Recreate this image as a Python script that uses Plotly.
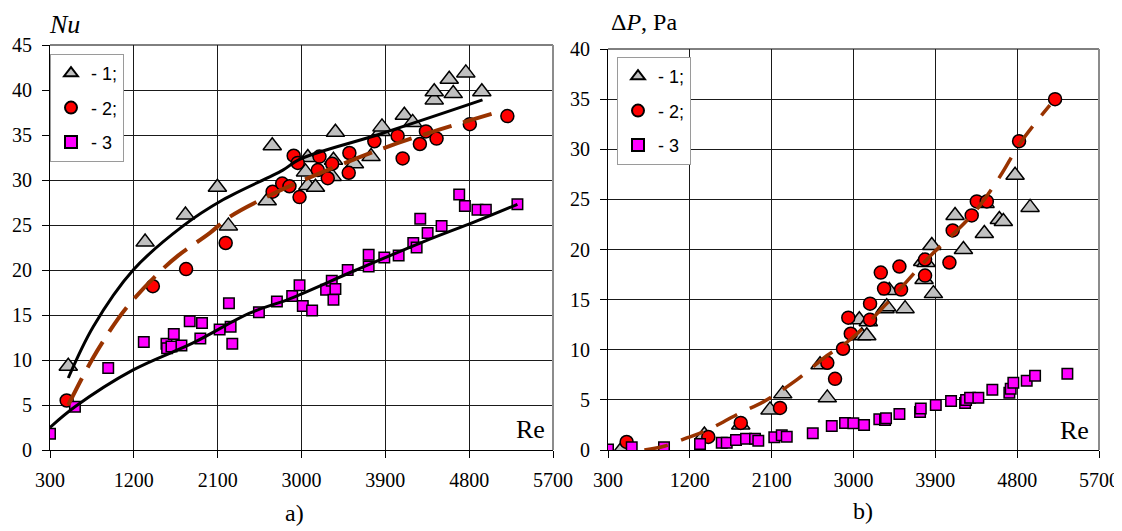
import plotly.graph_objects as go

# ---------------- data: panel a) Nu vs Re ----------------
re_a1 = [496, 1321, 1754, 2097, 2215, 2632, 2686, 3043, 3068, 3068, 3150, 3329, 3343, 3364,
         3568, 3747, 3853, 3864, 4104, 4193, 4425, 4425, 4586, 4629, 4764, 4936]
nu_a1 = [9.3, 23.1, 26.1, 29.2, 24.9, 27.7, 33.8, 30.9, 32.5, 29.4, 29.2, 30.4, 32.2, 35.3,
         31.8, 32.6, 35.4, 35.9, 37.2, 36.4, 38.9, 39.8, 41.2, 39.6, 41.9, 39.8]

re_a2 = [479, 1404, 1761, 2186, 2690, 2793, 2871, 2916, 2960, 2979, 3175, 3193, 3282, 3329,
         3507, 3514, 3782, 4032, 4086, 4271, 4336, 4450, 4807, 5210]
nu_a2 = [5.5, 18.2, 20.1, 23.0, 28.7, 29.6, 29.3, 32.7, 31.9, 28.1, 31.1, 32.6, 30.2, 31.8,
         30.8, 33.0, 34.3, 34.9, 32.4, 34.0, 35.4, 34.6, 36.2, 37.1]

re_a3 = [300, 568, 925, 1307, 1550, 1557, 1604, 1629, 1711, 1800, 1914, 1932, 2121, 2221,
         2239, 2257, 2543, 2736, 2900, 2979, 3014, 3114, 3264, 3325, 3343, 3364, 3496, 3721,
         3721, 3889, 4043, 4200, 4236, 4275, 4354, 4504, 4693, 4754, 4889, 4979, 5318]
nu_a3 = [1.8, 4.8, 9.1, 12.0, 11.8, 11.3, 11.5, 12.9, 11.6, 14.3, 12.4, 14.1, 13.4, 16.3,
         13.7, 11.8, 15.3, 16.5, 17.1, 18.3, 16.0, 15.5, 17.8, 18.8, 16.7, 17.9, 20.0, 21.7,
         20.4, 21.4, 21.6, 23.0, 22.5, 25.7, 24.1, 24.9, 28.4, 27.1, 26.7, 26.7, 27.3]

# fitted curves
fit_a1_re = [496, 764, 1193, 1729, 2157, 2800, 2979, 3871, 4943]
fit_a1_nu = [8.0, 13.7, 20.0, 24.9, 27.8, 31.1, 32.3, 35.2, 38.9]
fit_a2_re = [496, 675, 800, 1032, 1193, 1479, 1675, 2014, 2229, 2622, 2979, 3871, 4479, 5121]
fit_a2_nu = [5.0, 8.6, 10.9, 14.6, 16.7, 19.8, 21.6, 24.1, 25.9, 28.1, 29.8, 33.5, 35.6, 37.6]
fit_a3_re = [300, 568, 1193, 1836, 2443, 2872, 3586, 4300, 4871, 5318]
fit_a3_nu = [2.5, 4.8, 8.9, 11.9, 15.2, 16.8, 20.0, 23.1, 25.4, 27.3]

# ---------------- data: panel b) dP vs Re ----------------
re_b1 = [470, 1360, 1760, 2082, 2222, 2632, 2712, 3064, 3091, 3146, 3163, 3347, 3365, 3394,
         3567, 3761, 3776, 3798, 3861, 3879, 4117, 4209, 4439, 4447, 4604, 4648, 4777, 4942]
dp_b1 = [0.3, 1.5, 2.5, 4.0, 5.6, 8.5, 5.2, 13.0, 11.4, 11.4, 12.8, 14.1, 14.3, 15.9,
         14.1, 18.8, 17.0, 18.7, 20.4, 15.6, 23.4, 20.0, 21.6, 24.6, 23.0, 22.8, 27.4, 24.2]

re_b2 = [505, 1403, 1760, 2192, 2712, 2797, 2885, 2943, 2970, 3182, 3182, 3300, 3336, 3505,
         3523, 3787, 3787, 4055, 4091, 4300, 4356, 4466, 4821, 5217]
dp_b2 = [0.8, 1.3, 2.7, 4.2, 8.7, 7.1, 10.1, 13.2, 11.6, 14.6, 13.0, 17.7, 16.1, 18.3,
         16.0, 19.0, 17.4, 18.7, 21.9, 23.4, 24.8, 24.8, 30.8, 35.0]

re_b3 = [300, 561, 916, 1312, 1551, 1606, 1708, 1818, 1917, 1953, 2129, 2211, 2266, 2552,
         2761, 2907, 2998, 3116, 3284, 3347, 3358, 3505, 3732, 3740, 3905, 4073, 4227, 4238,
         4282, 4373, 4527, 4714, 4729, 4758, 4905, 4997, 5352]
dp_b3 = [0.05, 0.27, 0.27, 0.6, 0.73, 0.73, 1.0, 1.13, 1.13, 0.93, 1.27, 1.47, 1.33, 1.67,
         2.4, 2.7, 2.67, 2.5, 3.06, 3.0, 3.16, 3.6, 3.8, 4.15, 4.5, 4.9, 4.7, 5.0,
         5.2, 5.2, 6.0, 5.7, 6.1, 6.7, 6.9, 7.4, 7.6]

fit_b2_re = [700, 927, 1166, 1348, 1568, 1752, 2008, 2375, 2706, 2962, 3365, 3806, 4319, 4612, 4832, 5160]
fit_b2_dp = [0.0, 0.4, 1.2, 1.8, 2.8, 3.7, 4.8, 7.0, 9.4, 11.0, 14.6, 19.0, 23.6, 27.3, 30.6, 34.4]

re_ticks = [300, 1200, 2100, 3000, 3900, 4800, 5700]
legend_names = ["- 1;", "- 2;", "- 3"]

# ---------------- geometry (page pixels; the page body has an 8px margin) ----------------
OFF = 8
W, H = 1122 - OFF, 531 - OFF
ML, MT = 50 - OFF, 45 - OFF
PLOT_BOTTOM, PLOT_RIGHT = 450 - OFF, 1099 - OFF
MB, MR = H - PLOT_BOTTOM, W - PLOT_RIGHT
PW, PH = W - ML - MR, H - MT - MB

def px(x):
    return (x - OFF - ML) / PW

def py(y):
    return (PLOT_BOTTOM - (y - OFF)) / PH

SERIF = "Liberation Serif, Times New Roman, Times, serif"
SANS = "Liberation Sans, Arial, sans-serif"
BROWN = "#993300"

tri = dict(symbol="triangle-up", size=16, color="#c0c0c0", line=dict(color="black", width=1.5))
cir = dict(symbol="circle", size=13, color="#ff0000", line=dict(color="black", width=1.5))
sqr = dict(symbol="square", size=10.5, color="#ff00ff", line=dict(color="black", width=1.5))

fig = go.Figure()

def add_points(xs, ys, marker, name, xa, ya, leg):
    fig.add_trace(go.Scatter(x=xs, y=ys, mode="markers", marker=marker, name=name,
                             xaxis=xa, yaxis=ya, legend=leg, legendgroup=leg + name))

# panel a
add_points(re_a1, nu_a1, tri, legend_names[0], "x", "y", "legend")
add_points(re_a2, nu_a2, cir, legend_names[1], "x", "y", "legend")
add_points(re_a3, nu_a3, sqr, legend_names[2], "x", "y", "legend")
fig.add_trace(go.Scatter(x=fit_a1_re, y=fit_a1_nu, mode="lines", line=dict(color="black", width=3, shape="spline"),
                         xaxis="x", yaxis="y", showlegend=False))
fig.add_trace(go.Scatter(x=fit_a2_re, y=fit_a2_nu, mode="lines",
                         line=dict(color=BROWN, width=4, dash="30px,12px", shape="spline"),
                         xaxis="x", yaxis="y", showlegend=False))
fig.add_trace(go.Scatter(x=fit_a3_re, y=fit_a3_nu, mode="lines", line=dict(color="black", width=3, shape="spline"),
                         xaxis="x", yaxis="y", showlegend=False))

# panel b
add_points(re_b1, dp_b1, tri, legend_names[0], "x2", "y2", "legend2")
add_points(re_b2, dp_b2, cir, legend_names[1], "x2", "y2", "legend2")
add_points(re_b3, dp_b3, sqr, legend_names[2], "x2", "y2", "legend2")
fig.add_trace(go.Scatter(x=fit_b2_re, y=fit_b2_dp, mode="lines",
                         line=dict(color=BROWN, width=3.5, dash="24px,14px", shape="spline"),
                         xaxis="x2", yaxis="y2", showlegend=False))

axis_common = dict(showgrid=True, gridcolor="#1a1a1a", gridwidth=1, zeroline=False,
                   showline=True, linecolor="black", linewidth=1,
                   ticks="outside", ticklen=7, tickcolor="black", tickwidth=1,
                   tickfont=dict(family=SERIF, size=20, color="black"))

xa_dom = [px(50), px(553)]
xb_dom = [px(608), px(1099)]

legend_common = dict(xanchor="left", yanchor="top", bgcolor="white", bordercolor="#9a9a9a",
                     borderwidth=1, font=dict(family=SANS, size=18, color="black"),
                     traceorder="grouped", tracegroupgap=8, itemsizing="constant")

fig.update_layout(
    width=W, height=H,
    margin=dict(l=ML, r=MR, t=MT, b=MB, autoexpand=False),
    paper_bgcolor="white", plot_bgcolor="white",
    xaxis=dict(domain=xa_dom, range=[300, 5700], tickvals=re_ticks, anchor="y",
               ticklabelstandoff=5, **axis_common),
    yaxis=dict(domain=[0, 1], range=[0, 45], dtick=5, tick0=0, anchor="x",
               ticklabelstandoff=6, **axis_common),
    xaxis2=dict(domain=xb_dom, range=[300, 5700], tickvals=re_ticks, anchor="y2",
                ticklabelstandoff=5, **axis_common),
    yaxis2=dict(domain=[0, py(49)], range=[0, 40], dtick=5, tick0=0, anchor="x2",
                ticklabelstandoff=6, **axis_common),
    legend=dict(x=px(50), y=py(54), **legend_common),
    legend2=dict(x=px(617), y=py(57), **legend_common),
    showlegend=True,
)

# frame edges (top black, right grey)
for xa, ya in (("x", "y"), ("x2", "y2")):
    fig.add_shape(type="line", xref=f"{xa} domain", yref=f"{ya} domain", x0=0, x1=1, y0=1, y1=1,
                  line=dict(color="black", width=1), layer="below")
    fig.add_shape(type="line", xref=f"{xa} domain", yref=f"{ya} domain", x0=1, x1=1, y0=0, y1=1,
                  line=dict(color="#8c8c8c", width=2), layer="above")

ann = [
    dict(text="<i>Nu</i>", x=px(47), y=py(24), xanchor="left", size=26),
    dict(text="Δ<i>P</i>, Pa", x=px(609), y=py(22), xanchor="left", size=24),
    dict(text="Re", x=px(547), y=py(429), xanchor="right", size=26),
    dict(text="Re", x=px(1091), y=py(430), xanchor="right", size=26),
    dict(text="a)", x=px(294), y=py(513), xanchor="center", size=24),
    dict(text="b)", x=px(863), y=py(511), xanchor="center", size=24),
]
for a in ann:
    fig.add_annotation(text=a["text"], x=a["x"], y=a["y"], xref="paper", yref="paper",
                       xanchor=a["xanchor"], yanchor="middle", showarrow=False,
                       font=dict(family=SERIF, size=a["size"], color="black"))

fig.write_html("out.html")
